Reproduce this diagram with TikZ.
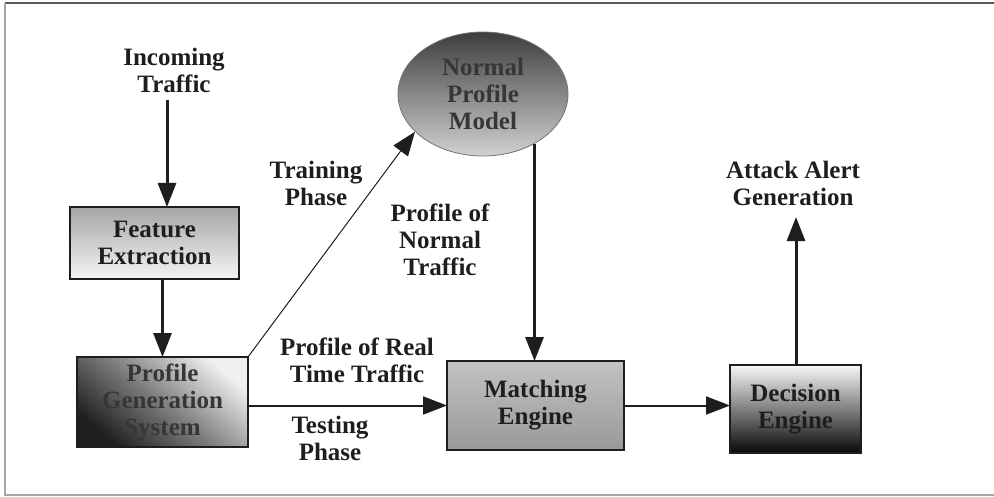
\documentclass[tikz,border=0pt]{standalone}
\usepackage{fontspec}
\setmainfont{Liberation Serif}
\usetikzlibrary{arrows.meta,shapes.geometric}
\definecolor{diagink}{HTML}{1E1E1E}
\definecolor{diagsoft}{HTML}{363636}
\definecolor{framedark}{HTML}{5A5A5A}
\definecolor{framelight}{HTML}{A6A6A6}

\begin{document}
\begin{tikzpicture}[x=0.5pt, y=-0.5pt, >={Triangle[length=12pt,width=9pt]},
                    every node/.style={diagink, align=center, inner sep=0pt,
                      font=\fontsize{12.5}{13.5}\selectfont\bfseries},
                    procbox/.style={draw=diagink, line width=1pt, outer sep=0pt},
                    thickflow/.style={diagink, line width=1.5pt, ->},
                    flow/.style={diagink, line width=1pt, ->}]

  \useasboundingbox (0,0) rectangle (994,497);

  %% outer frame, open on the right
  \draw[framedark, line width=1pt] (5,3) -- (994,3);
  \draw[framelight, line width=1pt] (5,3) -- (5,495) -- (994,495);

  %% blocks
  \node[procbox, minimum width=84.5pt, minimum height=36pt,
        top color=black!35, bottom color=black!4] (fe) at (154.5,243)
        {Feature\\Extraction};
  \node[procbox, minimum width=85.5pt, minimum height=45pt,
        top color=black!6, bottom color=black!88, middle color=black!50,
        shading angle=-40, text=diagsoft] (pgs) at (162.5,402)
        {Profile\\Generation\\System};
  \node[procbox, minimum width=88.5pt, minimum height=44.5pt,
        top color=black!24, bottom color=black!40] (me) at (535.5,405.5)
        {Matching\\Engine};
  \node[procbox, minimum width=65.5pt, minimum height=44pt,
        top color=black!3, bottom color=black!97] (de) at (795.5,409)
        {Decision\\Engine};
  \node[ellipse, draw=black!55, line width=0.4pt, minimum width=85pt,
        minimum height=62pt, top color=black!76, bottom color=black!18,
        text=diagsoft] (npm) at (483,94) {Normal\\Profile\\Model};

  %% free labels
  \node (incoming) at (174,70) {Incoming\\Traffic};
  \node (alert) at (793,183) {Attack Alert\\Generation};
  \node (training) at (316,183) {Training\\Phase};
  \node (normal) at (440,240) {Profile of\\Normal\\Traffic};
  \node (realtime) at (357,360) {Profile of Real\\Time Traffic};
  \node (testing) at (330,438) {Testing\\Phase};

  \coordinate (inStart) at (167,100);
  \coordinate (alertEnd) at (796,217);

  %% connectors
  \draw[thickflow] (inStart) -- (inStart |- fe.north);
  \draw[thickflow] (pgs.north |- fe.south) -- (pgs.north);
  \draw[diagink, line width=0.5pt, ->] (pgs.north east) -- (npm.209);
  \draw[thickflow] (npm.-44) -- (npm.-44 |- me.north);
  \draw[flow] (me.west -| pgs.east) -- (me.west);
  \draw[flow] (me.east) -- (me.east -| de.west);
  \draw[thickflow] (alertEnd |- de.north) -- (alertEnd);

\end{tikzpicture}
\end{document}
